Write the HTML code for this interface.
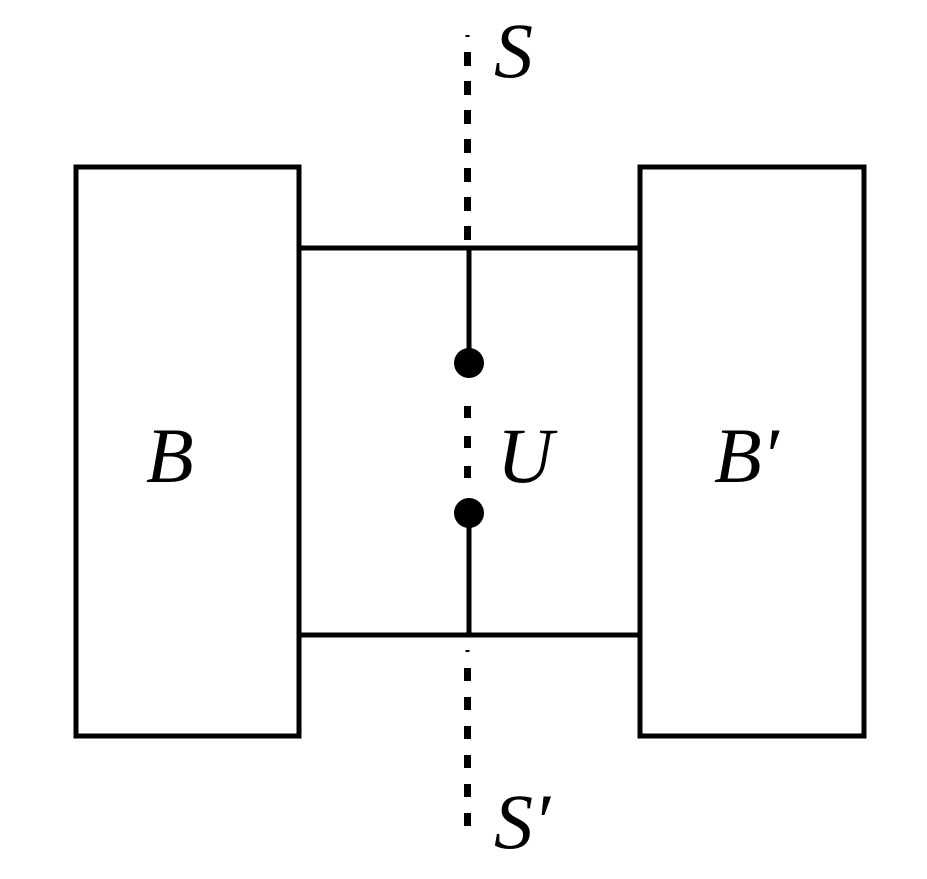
<!DOCTYPE html>
<html><head><style>
html,body{margin:0;padding:0;background:#fff;}
svg{display:block;}
text{font-family:"Liberation Serif",serif;font-style:italic;fill:#000;}
</style></head><body>
<svg width="927" height="879" viewBox="0 0 927 879" xmlns="http://www.w3.org/2000/svg">
<rect x="76" y="167" width="223" height="569" fill="none" stroke="#000" stroke-width="5"/>
<rect x="640" y="167" width="224" height="569" fill="none" stroke="#000" stroke-width="5"/>
<line x1="299" y1="248" x2="640" y2="248" stroke="#000" stroke-width="5"/>
<line x1="299" y1="635" x2="640" y2="635" stroke="#000" stroke-width="5"/>
<line x1="469" y1="248" x2="469" y2="363" stroke="#000" stroke-width="5"/>
<line x1="469" y1="513" x2="469" y2="635" stroke="#000" stroke-width="5"/>
<circle cx="469" cy="363" r="15" fill="#000"/>
<circle cx="469" cy="513" r="15" fill="#000"/>
<line x1="467.5" y1="35" x2="467.5" y2="37" stroke="#000" stroke-width="4"/>
<line x1="467.5" y1="52" x2="467.5" y2="240" stroke="#000" stroke-width="7" stroke-dasharray="14 15"/>
<line x1="467.5" y1="406" x2="467.5" y2="480" stroke="#000" stroke-width="7" stroke-dasharray="12 18"/>
<line x1="467.5" y1="650" x2="467.5" y2="652" stroke="#000" stroke-width="4"/>
<line x1="467.5" y1="668" x2="467.5" y2="834" stroke="#000" stroke-width="7" stroke-dasharray="13 16"/>
<text x="494" y="77" font-size="78">S</text>
<text x="494" y="848" font-size="78">S′</text>
<text x="146" y="482" font-size="78">B</text>
<text x="497" y="482" font-size="78">U</text>
<text x="714" y="482" font-size="78">B′</text>
</svg>
</body></html>
